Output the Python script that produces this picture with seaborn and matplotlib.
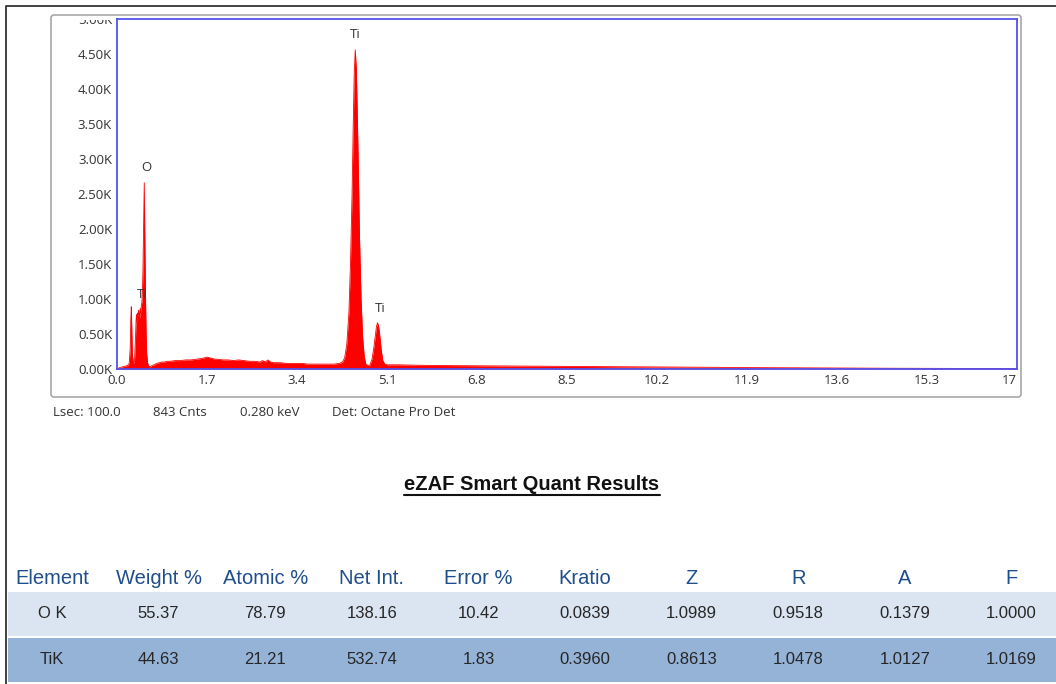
import numpy as np
import pandas as pd
import matplotlib
matplotlib.use("Agg")
import matplotlib.pyplot as plt
from matplotlib.patches import FancyBboxPatch, Rectangle
import seaborn as sns

# --- Spectro EDS (keV, cuentas en miles) ---
energia_kev = [0.00, 0.05, 0.10, 0.15, 0.20, 0.23, 0.25, 0.26, 0.27, 0.28, 0.29, 0.31,
               0.33, 0.35, 0.36, 0.37, 0.38, 0.39, 0.40, 0.41, 0.42, 0.43, 0.44, 0.45,
               0.46, 0.47, 0.48, 0.49, 0.50, 0.51, 0.515, 0.52, 0.53, 0.54, 0.55, 0.56,
               0.58, 0.60, 0.63, 0.66, 0.70, 0.75, 0.80, 0.85, 0.90, 0.95, 1.00, 1.10,
               1.20, 1.30, 1.40, 1.50, 1.60, 1.70, 1.75, 1.80, 1.85, 1.90, 2.00, 2.10,
               2.20, 2.30, 2.40, 2.50, 2.60, 2.70, 2.75, 2.80, 2.85, 2.90, 2.95, 3.00,
               3.10, 3.20, 3.30, 3.40, 3.50, 3.60, 3.70, 3.80, 3.90, 4.00, 4.10, 4.20,
               4.26, 4.30, 4.34, 4.38, 4.41, 4.44, 4.46, 4.48, 4.50, 4.52, 4.54, 4.56,
               4.58, 4.61, 4.64, 4.67, 4.70, 4.74, 4.78, 4.82, 4.85, 4.88, 4.90, 4.92,
               4.94, 4.96, 4.99, 5.02, 5.06, 5.10, 5.30, 5.60, 6.00, 6.50, 7.00, 7.50,
               8.00, 8.50, 9.00, 9.50, 10.0, 10.5, 11.0, 11.5, 12.0, 12.5, 13.0, 13.5,
               14.0, 14.5, 15.0, 15.5, 16.0, 16.5, 17.0]
cuentas_k = [0.00, 0.02, 0.03, 0.04, 0.05, 0.08, 0.30, 0.70, 0.89, 0.55, 0.20, 0.08,
             0.10, 0.45, 0.70, 0.78, 0.66, 0.80, 0.74, 0.84, 0.79, 0.72, 0.86, 0.80,
             0.92, 0.95, 1.10, 1.40, 1.90, 2.40, 2.66, 2.30, 1.60, 0.95, 0.50, 0.22,
             0.08, 0.04, 0.03, 0.05, 0.06, 0.08, 0.09, 0.10, 0.10, 0.11, 0.11, 0.12,
             0.12, 0.13, 0.13, 0.14, 0.15, 0.17, 0.16, 0.15, 0.14, 0.14, 0.13, 0.13,
             0.12, 0.13, 0.12, 0.11, 0.11, 0.10, 0.12, 0.10, 0.13, 0.10, 0.09, 0.09,
             0.09, 0.08, 0.08, 0.08, 0.08, 0.07, 0.07, 0.07, 0.07, 0.07, 0.07, 0.08,
             0.10, 0.16, 0.35, 0.80, 1.50, 2.50, 3.40, 4.20, 4.56, 4.30, 3.60, 2.80,
             1.90, 1.00, 0.45, 0.18, 0.07, 0.05, 0.06, 0.15, 0.30, 0.48, 0.60, 0.66,
             0.62, 0.50, 0.28, 0.12, 0.07, 0.06, 0.06, 0.055, 0.05, 0.048, 0.045, 0.042,
             0.040, 0.037, 0.035, 0.032, 0.030, 0.028, 0.025, 0.023, 0.020, 0.018, 0.016, 0.014,
             0.012, 0.011, 0.010, 0.009, 0.008, 0.007, 0.006]

# etiquetas de picos: (texto, keV, miles de cuentas)
picos_txt = ["Ti", "O", "Ti", "Ti"]
picos_x = [4.50, 0.56, 0.47, 4.97]
picos_y = [4.78, 2.88, 1.06, 0.87]

xticks_vals = [0.0, 1.7, 3.4, 5.1, 6.8, 8.5, 10.2, 11.9, 13.6, 15.3, 17.0]
xticks_lbls = ["0.0", "1.7", "3.4", "5.1", "6.8", "8.5", "10.2", "11.9", "13.6", "15.3", "17"]
yticks_vals = [0.0, 0.5, 1.0, 1.5, 2.0, 2.5, 3.0, 3.5, 4.0, 4.5, 5.0]

pie_info = ["Lsec: 100.0", "843 Cnts", "0.280 keV", "Det: Octane Pro Det"]

titulo = "eZAF Smart Quant Results"
columnas = ["Element", "Weight %", "Atomic %", "Net Int.", "Error %",
            "Kratio", "Z", "R", "A", "F"]
fila_o = ["O K", "55.37", "78.79", "138.16", "10.42",
          "0.0839", "1.0989", "0.9518", "0.1379", "1.0000"]
fila_ti = ["TiK", "44.63", "21.21", "532.74", "1.83",
           "0.3960", "0.8613", "1.0478", "1.0127", "1.0169"]

sns.set_style("white")
plt.rcParams["font.family"] = ["Open Sans", "DejaVu Sans"]

W, H = 1056, 684
fig = plt.figure(figsize=(W / 100, H / 100), dpi=100)

# capa de fondo en coordenadas de pixel
bg = fig.add_axes([0, 0, 1, 1], zorder=0)
bg.set_xlim(0, W)
bg.set_ylim(H, 0)
bg.axis("off")
bg.plot([6, 6, W], [H, 6, 6], color="#333333", lw=1.3)
bg.add_patch(FancyBboxPatch((51, 15), 970, 382, boxstyle="round,pad=0,rounding_size=3",
                            fc="white", ec="#a8a8a8", lw=1.2))
recorte = Rectangle((40, 19.5), 990, 380, fc="none", ec="none")
bg.add_patch(recorte)

# espectro
ax = fig.add_axes([117 / W, 1 - 369 / H, 900 / W, 350 / H], zorder=2)
df = pd.DataFrame({"keV": energia_kev, "cnts": cuentas_k})
sns.lineplot(data=df, x="keV", y="cnts", ax=ax, color="#ff0000", lw=0.6)
ax.fill_between(df["keV"], df["cnts"], color="#ff0000", lw=0)
ax.set_xlim(0, 17)
ax.set_ylim(0, 5)
ax.set_xlabel("")
ax.set_ylabel("")
ax.set_xticks(xticks_vals)
ax.set_xticklabels(xticks_lbls)
ax.set_yticks(yticks_vals)
ax.set_yticklabels([f"{v:.2f}K" for v in yticks_vals])
ax.tick_params(axis="both", labelsize=9.5, labelcolor="#333333", color="#888888",
               length=2.5, width=0.8, direction="out", pad=1)
ax.get_xticklabels()[-1].set_horizontalalignment("right")
for lab in ax.get_yticklabels():
    lab.set_clip_path(recorte)
for s in ax.spines.values():
    s.set_color("#5252ee")
    s.set_linewidth(1.3)
for t, x, y in zip(picos_txt, picos_x, picos_y):
    ax.text(x, y, t, fontsize=9.5, color="#333333", ha="center", va="center")

# linea de info bajo el grafico
for t, x in zip(pie_info, [53, 153, 240, 332]):
    bg.text(x, 412, t, fontsize=9.5, color="#333333", ha="left", va="center")

# titulo subrayado
tt = bg.text(532, 484, titulo, fontsize=14.5, fontweight="bold", family="Liberation Sans",
             ha="center", va="center", color="#111111")
fig.canvas.draw()
bb = tt.get_window_extent().transformed(bg.transData.inverted())
x0, x1 = sorted([bb.x0, bb.x1])
yl = max(bb.y0, bb.y1) + 1
bg.plot([x0, x1], [yl, yl], color="#111111", lw=1.5)

# tabla
bg.add_patch(Rectangle((8, 592), W - 8, 44, fc="#dbe5f1", ec="none"))
bg.add_patch(Rectangle((8, 638), W - 8, 44, fc="#95b3d7", ec="none"))
centros = [52 + i * 106.6 for i in range(len(columnas))]
for i, cx in enumerate(centros):
    bg.text(cx, 578, columnas[i], fontsize=14.5, family="Liberation Sans",
            color="#1f4e8c", ha="center", va="center")
    bg.text(cx, 614, fila_o[i], fontsize=12, family="Liberation Sans",
            color="#262626", ha="center", va="center")
    bg.text(cx, 660, fila_ti[i], fontsize=12, family="Liberation Sans",
            color="#262626", ha="center", va="center")

fig.savefig("out.png", dpi=100)
